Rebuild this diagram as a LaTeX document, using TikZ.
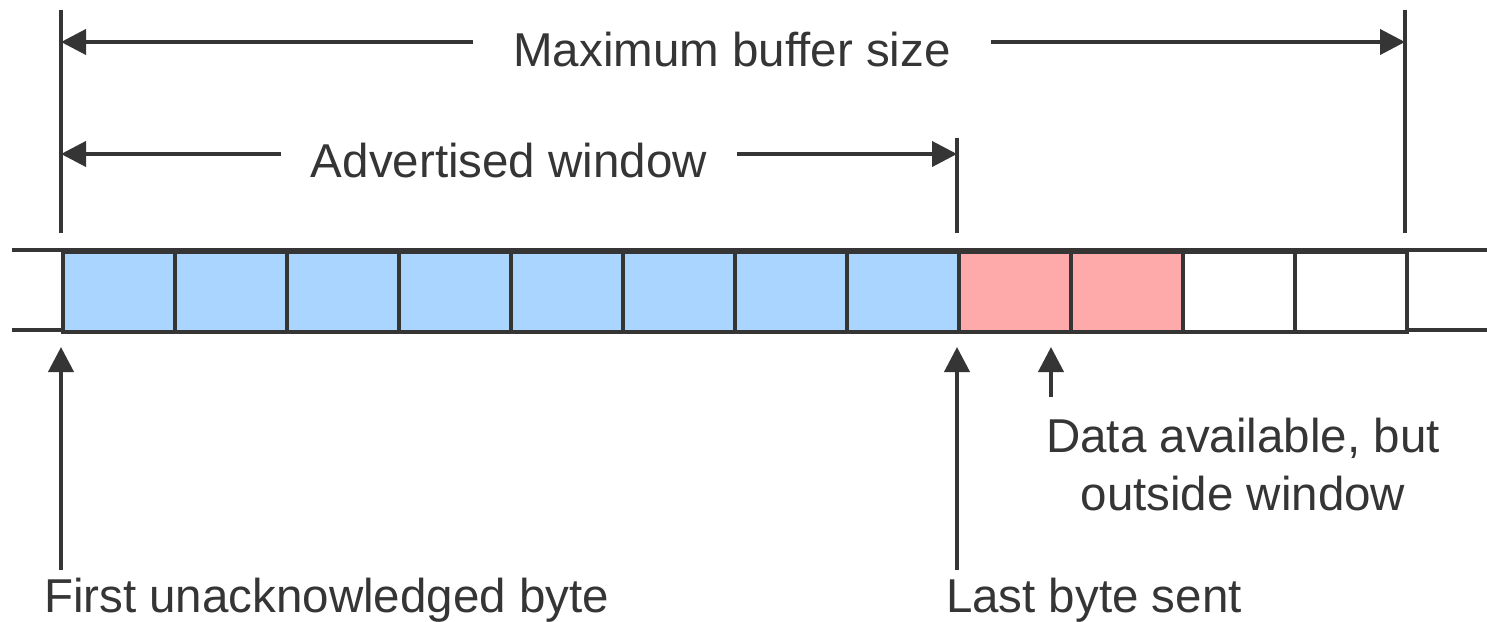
\documentclass[tikz,border=0pt]{standalone}
\usepackage{fontspec}
\setmainfont{Liberation Sans}
\usetikzlibrary{arrows.meta}
\definecolor{ink}{HTML}{353535}
\definecolor{cblue}{HTML}{AAD5FF}
\definecolor{cred}{HTML}{FFAAAA}
\begin{document}
\begin{tikzpicture}[x=1pt,y=-1pt,line width=4pt,draw=ink,
  lbl/.style={font=\fontsize{47.5}{57}\selectfont,text=ink,inner sep=0pt},
  cell/.style={draw=ink,line width=4pt,minimum width=112pt,minimum height=80pt,inner sep=0pt,anchor=north west},
  tip/.style={-{Triangle[length=25pt,width=25pt]}}]
\useasboundingbox[fill=white] (0,0) rectangle (1487,621);
% strip rails
\coordinate (railTL) at (12,250);
\coordinate (railTR) at (1487,250);
\coordinate (railBL) at (12,330);
\coordinate (railBR) at (1487,330);
\draw (railTL) -- (railTR);
\draw (railBL) -- (railBR);
% cells
\foreach \i in {0,...,7} \node[cell,fill=cblue] (c\i) at ({61+112*\i},250) {};
\foreach \i in {8,9} \node[cell,fill=cred] (c\i) at ({61+112*\i},250) {};
\foreach \i in {10,11} \node[cell,fill=white] (c\i) at ({61+112*\i},250) {};
% ticks
\coordinate (tkAtop) at (61,10);
\coordinate (tkAbot) at (61,233);
\coordinate (tkBtop) at (957,138);
\coordinate (tkBbot) at (957,233);
\coordinate (tkCtop) at (1405,10);
\coordinate (tkCbot) at (1405,233);
\draw (tkAtop) -- (tkAbot);
\draw (tkBtop) -- (tkBbot);
\draw (tkCtop) -- (tkCbot);
% maximum buffer size
\coordinate (mL) at (61,42);
\coordinate (mR) at (1405,42);
\node[lbl,anchor=base,inner xsep=38pt] (maxt) at (732,66) {Maximum buffer size};
\draw[tip] (maxt.west |- mL) -- (mL);
\draw[tip] (maxt.east |- mR) -- (mR);
% advertised window
\coordinate (aL) at (61,154);
\coordinate (aR) at (957,154);
\node[lbl,anchor=base,inner xsep=28pt] (advt) at (509,177) {Advertised window};
\draw[tip] (advt.west |- aL) -- (aL);
\draw[tip] (advt.east |- aR) -- (aR);
% bottom pointers
\node[lbl,anchor=base west] (first) at (42,612) {First unacknowledged byte};
\node[lbl,anchor=base west] (last) at (944,612) {Last byte sent};
\node[lbl,anchor=base] (data1) at (1243,452) {Data available, but};
\node[lbl,anchor=base] (data2) at (1243,510) {outside window};
\coordinate (p1t) at (61,570);
\coordinate (p1h) at (61,347);
\coordinate (p2t) at (957,570);
\coordinate (p2h) at (957,347);
\coordinate (p3t) at (1051,397);
\coordinate (p3h) at (1051,347);
\draw[tip] (p1t) -- (p1h);
\draw[tip] (p2t) -- (p2h);
\draw[tip] (p3t) -- (p3h);
\end{tikzpicture}
\end{document}
